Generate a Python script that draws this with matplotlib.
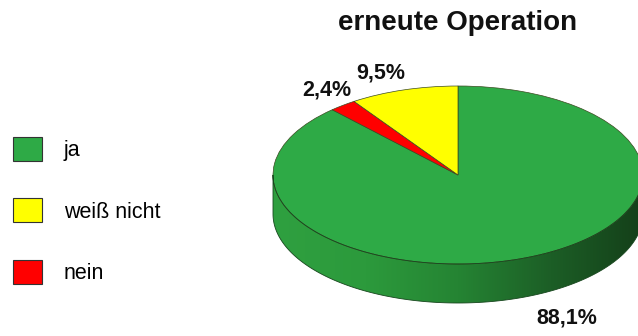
import numpy as np
import matplotlib
matplotlib.use("Agg")
import matplotlib.pyplot as plt
from matplotlib.patches import Patch, Polygon
from matplotlib.colors import LinearSegmentedColormap

plt.rcParams['font.family'] = ['Liberation Sans', 'DejaVu Sans']

# data
TITLE = "erneute Operation"
labels = ['ja', 'weiß nicht', 'nein']
shares = [88.1, 9.5, 2.4]
share_text = ['88,1%', '9,5%', '2,4%']
colors = ['#2eaa46', '#ffff00', '#ff0000']

# layout (pixels of the 638x336 picture)
W, H = 638, 336
CX, CY = 458, 161          # pie centre, from bottom
RX, RY = 185, 89           # ellipse radii of the top face
DEPTH = 39 / RY            # side height in data units
label_xy = {'ja': (0.589, -1.607), 'weiß nicht': (-0.42, 1.146), 'nein': (-0.708, 0.955)}

fig = plt.figure(figsize=(W / 100, H / 100), dpi=100)
fig.patch.set_facecolor('white')
ax = fig.add_axes([0, 0, 1, 1])

# side of the 3d pie: lower half of the ellipse, extruded down
t = np.linspace(np.pi, 2 * np.pi, 200)
top_edge = np.column_stack([np.cos(t), np.sin(t)])
bot_edge = np.column_stack([np.cos(t[::-1]), np.sin(t[::-1]) - DEPTH])
band = Polygon(np.vstack([top_edge, bot_edge]), closed=True,
               facecolor='none', edgecolor='#17461d', lw=0.6, zorder=3)
ax.add_patch(band)
side_cmap = LinearSegmentedColormap.from_list(
    'side', ['#2fa040', '#2c9a3c', '#258433', '#1c5e26', '#143f19'])
grad = np.linspace(0, 1, 256).reshape(1, -1)
img = ax.imshow(grad, cmap=side_cmap, aspect='auto',
                extent=(-1, 1, -1 - DEPTH, 0), zorder=1)
img.set_clip_path(band)

# top face: ja clockwise from 12 o'clock, then nein, then weiß nicht
order = [0, 2, 1]
wedges, _ = ax.pie([shares[i] for i in order],
                   colors=[colors[i] for i in order],
                   startangle=90, counterclock=False,
                   wedgeprops=dict(edgecolor='#3a4a20', linewidth=0.5))
for w in wedges:
    w.set_zorder(2)

for lab, txt in zip(labels, share_text):
    x, y = label_xy[lab]
    ax.text(x, y, txt, ha='center', va='center', fontsize=15.5,
            fontweight='bold', color='#111111', zorder=4)

ax.set_aspect('auto')
ax.set_xlim(-CX / RX, (W - CX) / RX)
ax.set_ylim(-CY / RY, (H - CY) / RY)
ax.axis('off')

fig.text(458 / W, 1 - 23 / H, TITLE, ha='center', va='center',
         fontsize=20, fontweight='bold', color='#111111')

handles = [Patch(facecolor=c, edgecolor='#333333', linewidth=0.8) for c in colors]
fig.legend(handles, labels, loc='upper left',
           bbox_to_anchor=(13 / W, 1 - 137 / H), frameon=False,
           fontsize=15.5, handlelength=1.35, handleheight=1.35,
           labelspacing=1.72, handletextpad=1.0, borderpad=0, borderaxespad=0)

fig.savefig('out.png', dpi=100, facecolor='white')
